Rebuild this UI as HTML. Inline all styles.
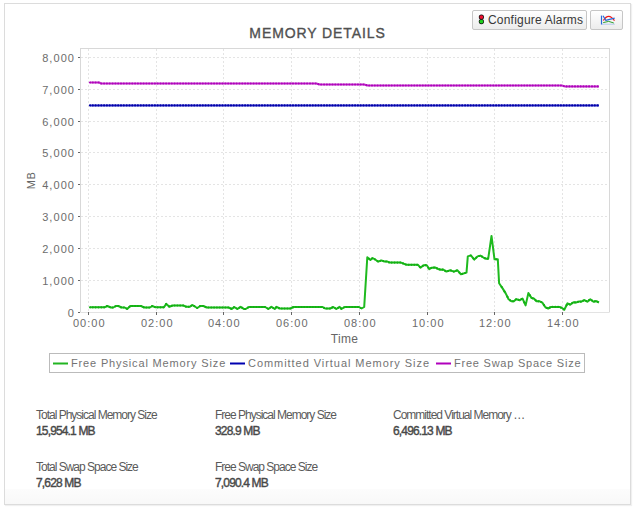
<!DOCTYPE html>
<html><head><meta charset="utf-8">
<style>
html,body{margin:0;padding:0;background:#fff;}
body{width:635px;height:508px;position:relative;overflow:hidden;font-family:"Liberation Sans",sans-serif;}
.frame{position:absolute;left:4px;top:3px;width:625px;height:500px;border:1px solid #dcdcdc;box-shadow:1px 1px 1px rgba(0,0,0,0.06);background:linear-gradient(#fff 0,#fff 485px,#fcfcfc 485px,#f8f8f8 500px);}
.title{position:absolute;left:0;width:635px;top:25px;text-align:center;font-weight:normal;font-size:14px;line-height:16px;letter-spacing:0.9px;color:#505050;-webkit-text-stroke:0.35px #505050;}
.btn{position:absolute;top:10px;height:18px;border:1px solid #c6c6c6;border-radius:2px;background:linear-gradient(#ffffff,#ececec);}
.b1{left:472px;width:113px;}
.b2{left:590px;width:31px;}
.btxt{position:absolute;left:15px;top:2px;font-size:12px;line-height:14px;color:#383838;letter-spacing:0.2px;white-space:nowrap;}
svg{position:absolute;left:0;top:0;}
.ax{font-family:"Liberation Sans",sans-serif;font-size:10.5px;fill:#6c6c6c;letter-spacing:1.0px;}
.lg{font-family:"Liberation Sans",sans-serif;font-size:11px;fill:#737373;letter-spacing:0.85px;}
.st{position:absolute;font-size:12px;line-height:16px;color:#5a5a5a;letter-spacing:-1px;white-space:nowrap;}
.st b{display:block;color:#484848;font-weight:normal;-webkit-text-stroke:0.4px #484848;letter-spacing:-0.85px;}
</style></head><body>
<div class="frame"></div>
<div class="title">MEMORY DETAILS</div>
<div class="btn b1">
 <svg width="8" height="11" style="left:5px;top:3px" viewBox="0 0 8 11"><circle cx="3.4" cy="3.1" r="2.6" fill="#111"/><circle cx="3.4" cy="7.6" r="2.6" fill="#111"/><circle cx="3.4" cy="3.1" r="1.9" fill="#ee1030"/><circle cx="3.4" cy="7.6" r="1.9" fill="#1ed01e"/></svg>
 <div class="btxt">Configure Alarms</div>
</div>
<div class="btn b2">
 <svg width="17" height="12" style="left:9px;top:3px" viewBox="0 0 17 12">
  <path d="M1 10.2H14.8" fill="none" stroke="#b4c8ec" stroke-width="1"/>
  <path d="M1.5 1.6V10.4" fill="none" stroke="#2a6ad8" stroke-width="1.2"/>
  <path d="M3.4 6.5Q8.5 -2 14.5 6.7" fill="none" stroke="#f01818" stroke-width="1.2"/>
  <path d="M3 1.8L5.8 6.3Q9 5.5 14.7 4.2" fill="none" stroke="#2a6ad8" stroke-width="1.2"/>
  <path d="M3.2 8.6Q9 6 13.8 9" fill="none" stroke="#30a030" stroke-width="1"/>
 </svg>
</div>
<svg width="635" height="508" viewBox="0 0 635 508">
 <g stroke="#e4e4e4" stroke-width="1" stroke-dasharray="2 2" fill="none">
  <path d="M81 280.5H609M81 248.5H609M81 216.5H609M81 184.5H609M81 152.5H609M81 121.5H609M81 89.5H609M81 57.5H609"/>
  <path d="M88.5 49V312M156.5 49V312M223.5 49V312M291.5 49V312M359.5 49V312M427.5 49V312M494.5 49V312M562.5 49V312"/>
 </g>
 <g stroke="#d8d8d8" stroke-width="1" fill="none">
  <path d="M80.5 48V312.5M80 48.5H610M609.5 48V312.5"/><path d="M81 312.5H609" stroke="#e3e3e3"/>
 </g>
 <g stroke="#666" stroke-width="1" fill="none">
  <path d="M78 280.5H80M78 248.5H80M78 216.5H80M78 184.5H80M78 152.5H80M78 121.5H80M78 89.5H80M78 57.5H80M78 312.5H80M88.5 312V315M156.5 312V315M223.5 312V315M291.5 312V315M359.5 312V315M427.5 312V315M494.5 312V315M562.5 312V315"/>
 </g>
 <text class="ax" transform="translate(75,285) scale(1.05,1)" text-anchor="end">1,000</text>
 <text class="ax" transform="translate(75,253) scale(1.05,1)" text-anchor="end">2,000</text>
 <text class="ax" transform="translate(75,221) scale(1.05,1)" text-anchor="end">3,000</text>
 <text class="ax" transform="translate(75,189) scale(1.05,1)" text-anchor="end">4,000</text>
 <text class="ax" transform="translate(75,157) scale(1.05,1)" text-anchor="end">5,000</text>
 <text class="ax" transform="translate(75,126) scale(1.05,1)" text-anchor="end">6,000</text>
 <text class="ax" transform="translate(75,94) scale(1.05,1)" text-anchor="end">7,000</text>
 <text class="ax" transform="translate(75,62) scale(1.05,1)" text-anchor="end">8,000</text>
 <text class="ax" transform="translate(75,317) scale(1.05,1)" text-anchor="end">0</text>
 <text class="ax" transform="translate(89.3,327) scale(1.05,1)" text-anchor="middle">00:00</text>
 <text class="ax" transform="translate(157.3,327) scale(1.05,1)" text-anchor="middle">02:00</text>
 <text class="ax" transform="translate(224.3,327) scale(1.05,1)" text-anchor="middle">04:00</text>
 <text class="ax" transform="translate(292.3,327) scale(1.05,1)" text-anchor="middle">06:00</text>
 <text class="ax" transform="translate(360.3,327) scale(1.05,1)" text-anchor="middle">08:00</text>
 <text class="ax" transform="translate(428.3,327) scale(1.05,1)" text-anchor="middle">10:00</text>
 <text class="ax" transform="translate(495.3,327) scale(1.05,1)" text-anchor="middle">12:00</text>
 <text class="ax" transform="translate(563.3,327) scale(1.05,1)" text-anchor="middle">14:00</text>
 <polyline points="90.0,82.5 99.2,82.5 101.1,83.5 316.4,83.5 319.5,84.5 364.2,84.5 367.4,85.5 562.1,85.5 564.6,86.4 599.0,86.4" fill="none" stroke="#c03cc8" stroke-width="2" stroke-linejoin="round"/>
<g fill="#b000bc"><circle cx="90.0" cy="82.5" r="1.1"/><circle cx="92.8" cy="82.5" r="1.1"/><circle cx="95.6" cy="82.5" r="1.1"/><circle cx="98.5" cy="82.5" r="1.1"/><circle cx="101.3" cy="83.5" r="1.1"/><circle cx="104.1" cy="83.5" r="1.1"/><circle cx="106.9" cy="83.5" r="1.1"/><circle cx="109.7" cy="83.5" r="1.1"/><circle cx="112.6" cy="83.5" r="1.1"/><circle cx="115.4" cy="83.5" r="1.1"/><circle cx="118.2" cy="83.5" r="1.1"/><circle cx="121.0" cy="83.5" r="1.1"/><circle cx="123.8" cy="83.5" r="1.1"/><circle cx="126.7" cy="83.5" r="1.1"/><circle cx="129.5" cy="83.5" r="1.1"/><circle cx="132.3" cy="83.5" r="1.1"/><circle cx="135.1" cy="83.5" r="1.1"/><circle cx="137.9" cy="83.5" r="1.1"/><circle cx="140.8" cy="83.5" r="1.1"/><circle cx="143.6" cy="83.5" r="1.1"/><circle cx="146.4" cy="83.5" r="1.1"/><circle cx="149.2" cy="83.5" r="1.1"/><circle cx="152.0" cy="83.5" r="1.1"/><circle cx="154.9" cy="83.5" r="1.1"/><circle cx="157.7" cy="83.5" r="1.1"/><circle cx="160.5" cy="83.5" r="1.1"/><circle cx="163.3" cy="83.5" r="1.1"/><circle cx="166.1" cy="83.5" r="1.1"/><circle cx="169.0" cy="83.5" r="1.1"/><circle cx="171.8" cy="83.5" r="1.1"/><circle cx="174.6" cy="83.5" r="1.1"/><circle cx="177.4" cy="83.5" r="1.1"/><circle cx="180.2" cy="83.5" r="1.1"/><circle cx="183.1" cy="83.5" r="1.1"/><circle cx="185.9" cy="83.5" r="1.1"/><circle cx="188.7" cy="83.5" r="1.1"/><circle cx="191.5" cy="83.5" r="1.1"/><circle cx="194.3" cy="83.5" r="1.1"/><circle cx="197.2" cy="83.5" r="1.1"/><circle cx="200.0" cy="83.5" r="1.1"/><circle cx="202.8" cy="83.5" r="1.1"/><circle cx="205.6" cy="83.5" r="1.1"/><circle cx="208.4" cy="83.5" r="1.1"/><circle cx="211.3" cy="83.5" r="1.1"/><circle cx="214.1" cy="83.5" r="1.1"/><circle cx="216.9" cy="83.5" r="1.1"/><circle cx="219.7" cy="83.5" r="1.1"/><circle cx="222.5" cy="83.5" r="1.1"/><circle cx="225.4" cy="83.5" r="1.1"/><circle cx="228.2" cy="83.5" r="1.1"/><circle cx="231.0" cy="83.5" r="1.1"/><circle cx="233.8" cy="83.5" r="1.1"/><circle cx="236.6" cy="83.5" r="1.1"/><circle cx="239.5" cy="83.5" r="1.1"/><circle cx="242.3" cy="83.5" r="1.1"/><circle cx="245.1" cy="83.5" r="1.1"/><circle cx="247.9" cy="83.5" r="1.1"/><circle cx="250.7" cy="83.5" r="1.1"/><circle cx="253.6" cy="83.5" r="1.1"/><circle cx="256.4" cy="83.5" r="1.1"/><circle cx="259.2" cy="83.5" r="1.1"/><circle cx="262.0" cy="83.5" r="1.1"/><circle cx="264.8" cy="83.5" r="1.1"/><circle cx="267.7" cy="83.5" r="1.1"/><circle cx="270.5" cy="83.5" r="1.1"/><circle cx="273.3" cy="83.5" r="1.1"/><circle cx="276.1" cy="83.5" r="1.1"/><circle cx="278.9" cy="83.5" r="1.1"/><circle cx="281.8" cy="83.5" r="1.1"/><circle cx="284.6" cy="83.5" r="1.1"/><circle cx="287.4" cy="83.5" r="1.1"/><circle cx="290.2" cy="83.5" r="1.1"/><circle cx="293.0" cy="83.5" r="1.1"/><circle cx="295.9" cy="83.5" r="1.1"/><circle cx="298.7" cy="83.5" r="1.1"/><circle cx="301.5" cy="83.5" r="1.1"/><circle cx="304.3" cy="83.5" r="1.1"/><circle cx="307.1" cy="83.5" r="1.1"/><circle cx="310.0" cy="83.5" r="1.1"/><circle cx="312.8" cy="83.5" r="1.1"/><circle cx="315.6" cy="83.5" r="1.1"/><circle cx="318.4" cy="84.2" r="1.1"/><circle cx="321.2" cy="84.5" r="1.1"/><circle cx="324.1" cy="84.5" r="1.1"/><circle cx="326.9" cy="84.5" r="1.1"/><circle cx="329.7" cy="84.5" r="1.1"/><circle cx="332.5" cy="84.5" r="1.1"/><circle cx="335.3" cy="84.5" r="1.1"/><circle cx="338.2" cy="84.5" r="1.1"/><circle cx="341.0" cy="84.5" r="1.1"/><circle cx="343.8" cy="84.5" r="1.1"/><circle cx="346.6" cy="84.5" r="1.1"/><circle cx="349.4" cy="84.5" r="1.1"/><circle cx="352.3" cy="84.5" r="1.1"/><circle cx="355.1" cy="84.5" r="1.1"/><circle cx="357.9" cy="84.5" r="1.1"/><circle cx="360.7" cy="84.5" r="1.1"/><circle cx="363.5" cy="84.5" r="1.1"/><circle cx="366.4" cy="85.2" r="1.1"/><circle cx="369.2" cy="85.5" r="1.1"/><circle cx="372.0" cy="85.5" r="1.1"/><circle cx="374.8" cy="85.5" r="1.1"/><circle cx="377.6" cy="85.5" r="1.1"/><circle cx="380.5" cy="85.5" r="1.1"/><circle cx="383.3" cy="85.5" r="1.1"/><circle cx="386.1" cy="85.5" r="1.1"/><circle cx="388.9" cy="85.5" r="1.1"/><circle cx="391.7" cy="85.5" r="1.1"/><circle cx="394.6" cy="85.5" r="1.1"/><circle cx="397.4" cy="85.5" r="1.1"/><circle cx="400.2" cy="85.5" r="1.1"/><circle cx="403.0" cy="85.5" r="1.1"/><circle cx="405.8" cy="85.5" r="1.1"/><circle cx="408.7" cy="85.5" r="1.1"/><circle cx="411.5" cy="85.5" r="1.1"/><circle cx="414.3" cy="85.5" r="1.1"/><circle cx="417.1" cy="85.5" r="1.1"/><circle cx="419.9" cy="85.5" r="1.1"/><circle cx="422.8" cy="85.5" r="1.1"/><circle cx="425.6" cy="85.5" r="1.1"/><circle cx="428.4" cy="85.5" r="1.1"/><circle cx="431.2" cy="85.5" r="1.1"/><circle cx="434.0" cy="85.5" r="1.1"/><circle cx="436.9" cy="85.5" r="1.1"/><circle cx="439.7" cy="85.5" r="1.1"/><circle cx="442.5" cy="85.5" r="1.1"/><circle cx="445.3" cy="85.5" r="1.1"/><circle cx="448.1" cy="85.5" r="1.1"/><circle cx="451.0" cy="85.5" r="1.1"/><circle cx="453.8" cy="85.5" r="1.1"/><circle cx="456.6" cy="85.5" r="1.1"/><circle cx="459.4" cy="85.5" r="1.1"/><circle cx="462.2" cy="85.5" r="1.1"/><circle cx="465.1" cy="85.5" r="1.1"/><circle cx="467.9" cy="85.5" r="1.1"/><circle cx="470.7" cy="85.5" r="1.1"/><circle cx="473.5" cy="85.5" r="1.1"/><circle cx="476.3" cy="85.5" r="1.1"/><circle cx="479.2" cy="85.5" r="1.1"/><circle cx="482.0" cy="85.5" r="1.1"/><circle cx="484.8" cy="85.5" r="1.1"/><circle cx="487.6" cy="85.5" r="1.1"/><circle cx="490.4" cy="85.5" r="1.1"/><circle cx="493.3" cy="85.5" r="1.1"/><circle cx="496.1" cy="85.5" r="1.1"/><circle cx="498.9" cy="85.5" r="1.1"/><circle cx="501.7" cy="85.5" r="1.1"/><circle cx="504.5" cy="85.5" r="1.1"/><circle cx="507.4" cy="85.5" r="1.1"/><circle cx="510.2" cy="85.5" r="1.1"/><circle cx="513.0" cy="85.5" r="1.1"/><circle cx="515.8" cy="85.5" r="1.1"/><circle cx="518.6" cy="85.5" r="1.1"/><circle cx="521.5" cy="85.5" r="1.1"/><circle cx="524.3" cy="85.5" r="1.1"/><circle cx="527.1" cy="85.5" r="1.1"/><circle cx="529.9" cy="85.5" r="1.1"/><circle cx="532.7" cy="85.5" r="1.1"/><circle cx="535.6" cy="85.5" r="1.1"/><circle cx="538.4" cy="85.5" r="1.1"/><circle cx="541.2" cy="85.5" r="1.1"/><circle cx="544.0" cy="85.5" r="1.1"/><circle cx="546.8" cy="85.5" r="1.1"/><circle cx="549.7" cy="85.5" r="1.1"/><circle cx="552.5" cy="85.5" r="1.1"/><circle cx="555.3" cy="85.5" r="1.1"/><circle cx="558.1" cy="85.5" r="1.1"/><circle cx="560.9" cy="85.5" r="1.1"/><circle cx="563.8" cy="86.1" r="1.1"/><circle cx="566.6" cy="86.4" r="1.1"/><circle cx="569.4" cy="86.4" r="1.1"/><circle cx="572.2" cy="86.4" r="1.1"/><circle cx="575.0" cy="86.4" r="1.1"/><circle cx="577.9" cy="86.4" r="1.1"/><circle cx="580.7" cy="86.4" r="1.1"/><circle cx="583.5" cy="86.4" r="1.1"/><circle cx="586.3" cy="86.4" r="1.1"/><circle cx="589.1" cy="86.4" r="1.1"/><circle cx="592.0" cy="86.4" r="1.1"/><circle cx="594.8" cy="86.4" r="1.1"/><circle cx="597.6" cy="86.4" r="1.1"/></g>
<polyline points="90.0,105.4 599.0,105.4" fill="none" stroke="#3434c8" stroke-width="2"/>
<g fill="#0000a8"><circle cx="90.0" cy="105.4" r="1.1"/><circle cx="92.8" cy="105.4" r="1.1"/><circle cx="95.6" cy="105.4" r="1.1"/><circle cx="98.5" cy="105.4" r="1.1"/><circle cx="101.3" cy="105.4" r="1.1"/><circle cx="104.1" cy="105.4" r="1.1"/><circle cx="106.9" cy="105.4" r="1.1"/><circle cx="109.7" cy="105.4" r="1.1"/><circle cx="112.6" cy="105.4" r="1.1"/><circle cx="115.4" cy="105.4" r="1.1"/><circle cx="118.2" cy="105.4" r="1.1"/><circle cx="121.0" cy="105.4" r="1.1"/><circle cx="123.8" cy="105.4" r="1.1"/><circle cx="126.7" cy="105.4" r="1.1"/><circle cx="129.5" cy="105.4" r="1.1"/><circle cx="132.3" cy="105.4" r="1.1"/><circle cx="135.1" cy="105.4" r="1.1"/><circle cx="137.9" cy="105.4" r="1.1"/><circle cx="140.8" cy="105.4" r="1.1"/><circle cx="143.6" cy="105.4" r="1.1"/><circle cx="146.4" cy="105.4" r="1.1"/><circle cx="149.2" cy="105.4" r="1.1"/><circle cx="152.0" cy="105.4" r="1.1"/><circle cx="154.9" cy="105.4" r="1.1"/><circle cx="157.7" cy="105.4" r="1.1"/><circle cx="160.5" cy="105.4" r="1.1"/><circle cx="163.3" cy="105.4" r="1.1"/><circle cx="166.1" cy="105.4" r="1.1"/><circle cx="169.0" cy="105.4" r="1.1"/><circle cx="171.8" cy="105.4" r="1.1"/><circle cx="174.6" cy="105.4" r="1.1"/><circle cx="177.4" cy="105.4" r="1.1"/><circle cx="180.2" cy="105.4" r="1.1"/><circle cx="183.1" cy="105.4" r="1.1"/><circle cx="185.9" cy="105.4" r="1.1"/><circle cx="188.7" cy="105.4" r="1.1"/><circle cx="191.5" cy="105.4" r="1.1"/><circle cx="194.3" cy="105.4" r="1.1"/><circle cx="197.2" cy="105.4" r="1.1"/><circle cx="200.0" cy="105.4" r="1.1"/><circle cx="202.8" cy="105.4" r="1.1"/><circle cx="205.6" cy="105.4" r="1.1"/><circle cx="208.4" cy="105.4" r="1.1"/><circle cx="211.3" cy="105.4" r="1.1"/><circle cx="214.1" cy="105.4" r="1.1"/><circle cx="216.9" cy="105.4" r="1.1"/><circle cx="219.7" cy="105.4" r="1.1"/><circle cx="222.5" cy="105.4" r="1.1"/><circle cx="225.4" cy="105.4" r="1.1"/><circle cx="228.2" cy="105.4" r="1.1"/><circle cx="231.0" cy="105.4" r="1.1"/><circle cx="233.8" cy="105.4" r="1.1"/><circle cx="236.6" cy="105.4" r="1.1"/><circle cx="239.5" cy="105.4" r="1.1"/><circle cx="242.3" cy="105.4" r="1.1"/><circle cx="245.1" cy="105.4" r="1.1"/><circle cx="247.9" cy="105.4" r="1.1"/><circle cx="250.7" cy="105.4" r="1.1"/><circle cx="253.6" cy="105.4" r="1.1"/><circle cx="256.4" cy="105.4" r="1.1"/><circle cx="259.2" cy="105.4" r="1.1"/><circle cx="262.0" cy="105.4" r="1.1"/><circle cx="264.8" cy="105.4" r="1.1"/><circle cx="267.7" cy="105.4" r="1.1"/><circle cx="270.5" cy="105.4" r="1.1"/><circle cx="273.3" cy="105.4" r="1.1"/><circle cx="276.1" cy="105.4" r="1.1"/><circle cx="278.9" cy="105.4" r="1.1"/><circle cx="281.8" cy="105.4" r="1.1"/><circle cx="284.6" cy="105.4" r="1.1"/><circle cx="287.4" cy="105.4" r="1.1"/><circle cx="290.2" cy="105.4" r="1.1"/><circle cx="293.0" cy="105.4" r="1.1"/><circle cx="295.9" cy="105.4" r="1.1"/><circle cx="298.7" cy="105.4" r="1.1"/><circle cx="301.5" cy="105.4" r="1.1"/><circle cx="304.3" cy="105.4" r="1.1"/><circle cx="307.1" cy="105.4" r="1.1"/><circle cx="310.0" cy="105.4" r="1.1"/><circle cx="312.8" cy="105.4" r="1.1"/><circle cx="315.6" cy="105.4" r="1.1"/><circle cx="318.4" cy="105.4" r="1.1"/><circle cx="321.2" cy="105.4" r="1.1"/><circle cx="324.1" cy="105.4" r="1.1"/><circle cx="326.9" cy="105.4" r="1.1"/><circle cx="329.7" cy="105.4" r="1.1"/><circle cx="332.5" cy="105.4" r="1.1"/><circle cx="335.3" cy="105.4" r="1.1"/><circle cx="338.2" cy="105.4" r="1.1"/><circle cx="341.0" cy="105.4" r="1.1"/><circle cx="343.8" cy="105.4" r="1.1"/><circle cx="346.6" cy="105.4" r="1.1"/><circle cx="349.4" cy="105.4" r="1.1"/><circle cx="352.3" cy="105.4" r="1.1"/><circle cx="355.1" cy="105.4" r="1.1"/><circle cx="357.9" cy="105.4" r="1.1"/><circle cx="360.7" cy="105.4" r="1.1"/><circle cx="363.5" cy="105.4" r="1.1"/><circle cx="366.4" cy="105.4" r="1.1"/><circle cx="369.2" cy="105.4" r="1.1"/><circle cx="372.0" cy="105.4" r="1.1"/><circle cx="374.8" cy="105.4" r="1.1"/><circle cx="377.6" cy="105.4" r="1.1"/><circle cx="380.5" cy="105.4" r="1.1"/><circle cx="383.3" cy="105.4" r="1.1"/><circle cx="386.1" cy="105.4" r="1.1"/><circle cx="388.9" cy="105.4" r="1.1"/><circle cx="391.7" cy="105.4" r="1.1"/><circle cx="394.6" cy="105.4" r="1.1"/><circle cx="397.4" cy="105.4" r="1.1"/><circle cx="400.2" cy="105.4" r="1.1"/><circle cx="403.0" cy="105.4" r="1.1"/><circle cx="405.8" cy="105.4" r="1.1"/><circle cx="408.7" cy="105.4" r="1.1"/><circle cx="411.5" cy="105.4" r="1.1"/><circle cx="414.3" cy="105.4" r="1.1"/><circle cx="417.1" cy="105.4" r="1.1"/><circle cx="419.9" cy="105.4" r="1.1"/><circle cx="422.8" cy="105.4" r="1.1"/><circle cx="425.6" cy="105.4" r="1.1"/><circle cx="428.4" cy="105.4" r="1.1"/><circle cx="431.2" cy="105.4" r="1.1"/><circle cx="434.0" cy="105.4" r="1.1"/><circle cx="436.9" cy="105.4" r="1.1"/><circle cx="439.7" cy="105.4" r="1.1"/><circle cx="442.5" cy="105.4" r="1.1"/><circle cx="445.3" cy="105.4" r="1.1"/><circle cx="448.1" cy="105.4" r="1.1"/><circle cx="451.0" cy="105.4" r="1.1"/><circle cx="453.8" cy="105.4" r="1.1"/><circle cx="456.6" cy="105.4" r="1.1"/><circle cx="459.4" cy="105.4" r="1.1"/><circle cx="462.2" cy="105.4" r="1.1"/><circle cx="465.1" cy="105.4" r="1.1"/><circle cx="467.9" cy="105.4" r="1.1"/><circle cx="470.7" cy="105.4" r="1.1"/><circle cx="473.5" cy="105.4" r="1.1"/><circle cx="476.3" cy="105.4" r="1.1"/><circle cx="479.2" cy="105.4" r="1.1"/><circle cx="482.0" cy="105.4" r="1.1"/><circle cx="484.8" cy="105.4" r="1.1"/><circle cx="487.6" cy="105.4" r="1.1"/><circle cx="490.4" cy="105.4" r="1.1"/><circle cx="493.3" cy="105.4" r="1.1"/><circle cx="496.1" cy="105.4" r="1.1"/><circle cx="498.9" cy="105.4" r="1.1"/><circle cx="501.7" cy="105.4" r="1.1"/><circle cx="504.5" cy="105.4" r="1.1"/><circle cx="507.4" cy="105.4" r="1.1"/><circle cx="510.2" cy="105.4" r="1.1"/><circle cx="513.0" cy="105.4" r="1.1"/><circle cx="515.8" cy="105.4" r="1.1"/><circle cx="518.6" cy="105.4" r="1.1"/><circle cx="521.5" cy="105.4" r="1.1"/><circle cx="524.3" cy="105.4" r="1.1"/><circle cx="527.1" cy="105.4" r="1.1"/><circle cx="529.9" cy="105.4" r="1.1"/><circle cx="532.7" cy="105.4" r="1.1"/><circle cx="535.6" cy="105.4" r="1.1"/><circle cx="538.4" cy="105.4" r="1.1"/><circle cx="541.2" cy="105.4" r="1.1"/><circle cx="544.0" cy="105.4" r="1.1"/><circle cx="546.8" cy="105.4" r="1.1"/><circle cx="549.7" cy="105.4" r="1.1"/><circle cx="552.5" cy="105.4" r="1.1"/><circle cx="555.3" cy="105.4" r="1.1"/><circle cx="558.1" cy="105.4" r="1.1"/><circle cx="560.9" cy="105.4" r="1.1"/><circle cx="563.8" cy="105.4" r="1.1"/><circle cx="566.6" cy="105.4" r="1.1"/><circle cx="569.4" cy="105.4" r="1.1"/><circle cx="572.2" cy="105.4" r="1.1"/><circle cx="575.0" cy="105.4" r="1.1"/><circle cx="577.9" cy="105.4" r="1.1"/><circle cx="580.7" cy="105.4" r="1.1"/><circle cx="583.5" cy="105.4" r="1.1"/><circle cx="586.3" cy="105.4" r="1.1"/><circle cx="589.1" cy="105.4" r="1.1"/><circle cx="592.0" cy="105.4" r="1.1"/><circle cx="594.8" cy="105.4" r="1.1"/><circle cx="597.6" cy="105.4" r="1.1"/></g>
<polyline points="90.0,307.3 104.5,307.3 107.4,306.0 110.8,307.5 113.3,307.5 115.9,306.0 118.4,306.0 121.5,307.5 124.7,307.5 127.2,309.0 130.3,306.0 141.0,306.0 144.2,307.5 149.9,307.5 152.4,306.0 155.5,307.3 162.5,307.3 163.8,307.3 166.3,303.9 169.4,306.8 172.6,305.5 183.3,305.5 186.4,306.8 189.6,306.8 192.5,305.0 197.2,308.0 200.3,306.0 203.5,306.0 206.6,307.5 228.6,307.5 231.8,309.0 234.3,307.0 237.5,309.0 240.7,306.8 243.8,309.0 245.7,309.0 248.9,307.0 265.2,307.0 268.4,309.0 271.5,306.8 274.7,309.0 276.6,306.8 279.7,308.5 290.4,308.5 293.6,307.0 322.6,307.0 325.1,308.5 330.2,308.5 333.3,307.0 336.4,309.0 339.6,306.8 341.5,309.0 344.6,307.0 359.1,307.0 361.6,308.5 364.2,307.0 367.3,257.2 370.4,259.9 372.6,258.0 375.2,259.5 378.3,261.7 381.4,260.4 384.6,261.6 387.1,261.4 389.6,262.6 401.0,262.6 403.5,263.6 406.6,264.8 418.0,264.8 420.5,267.7 423.6,265.2 426.8,265.2 429.3,269.2 431.8,267.7 435.0,267.4 438.2,269.0 440.7,269.7 443.2,269.5 446.4,271.6 450.2,270.3 453.9,271.6 457.5,270.3 460.9,274.3 466.5,272.6 467.8,256.4 470.9,255.4 474.3,259.6 477.6,256.4 480.4,255.6 484.2,258.0 486.0,258.7 488.2,258.7 491.5,235.9 494.5,259.3 497.8,259.3 499.1,283.3 502.6,288.4 505.7,293.4 508.6,299.3 511.4,301.3 513.9,301.3 516.4,299.1 519.6,300.3 522.5,298.5 525.6,305.4 528.4,293.0 531.6,298.1 533.8,298.5 536.6,301.3 539.7,301.3 542.3,302.6 545.4,307.3 548.2,308.5 551.1,306.9 559.3,306.9 562.4,308.2 564.3,309.8 567.5,303.3 570.2,304.7 573.4,302.2 576.1,302.5 579.3,301.4 581.3,301.7 584.4,300.1 587.4,301.7 590.3,299.2 593.5,301.7 596.2,301.1 599.0,302.5" fill="none" stroke="#1fba1f" stroke-width="2" stroke-linejoin="round"/>
<g fill="#12b012"><circle cx="90.0" cy="307.3" r="1.1"/><circle cx="92.8" cy="307.3" r="1.1"/><circle cx="95.6" cy="307.3" r="1.1"/><circle cx="98.5" cy="307.3" r="1.1"/><circle cx="101.3" cy="307.3" r="1.1"/><circle cx="104.1" cy="307.3" r="1.1"/><circle cx="106.9" cy="306.2" r="1.1"/><circle cx="109.7" cy="307.0" r="1.1"/><circle cx="112.6" cy="307.5" r="1.1"/><circle cx="115.4" cy="306.3" r="1.1"/><circle cx="118.2" cy="306.0" r="1.1"/><circle cx="121.0" cy="307.3" r="1.1"/><circle cx="123.8" cy="307.5" r="1.1"/><circle cx="126.7" cy="308.7" r="1.1"/><circle cx="129.5" cy="306.8" r="1.1"/><circle cx="132.3" cy="306.0" r="1.1"/><circle cx="135.1" cy="306.0" r="1.1"/><circle cx="137.9" cy="306.0" r="1.1"/><circle cx="140.8" cy="306.0" r="1.1"/><circle cx="143.6" cy="307.2" r="1.1"/><circle cx="146.4" cy="307.5" r="1.1"/><circle cx="149.2" cy="307.5" r="1.1"/><circle cx="152.0" cy="306.2" r="1.1"/><circle cx="154.9" cy="307.0" r="1.1"/><circle cx="157.7" cy="307.3" r="1.1"/><circle cx="160.5" cy="307.3" r="1.1"/><circle cx="163.3" cy="307.3" r="1.1"/><circle cx="166.1" cy="304.1" r="1.1"/><circle cx="169.0" cy="306.4" r="1.1"/><circle cx="171.8" cy="305.8" r="1.1"/><circle cx="174.6" cy="305.5" r="1.1"/><circle cx="177.4" cy="305.5" r="1.1"/><circle cx="180.2" cy="305.5" r="1.1"/><circle cx="183.1" cy="305.5" r="1.1"/><circle cx="185.9" cy="306.6" r="1.1"/><circle cx="188.7" cy="306.8" r="1.1"/><circle cx="191.5" cy="305.6" r="1.1"/><circle cx="194.3" cy="306.2" r="1.1"/><circle cx="197.2" cy="308.0" r="1.1"/><circle cx="200.0" cy="306.2" r="1.1"/><circle cx="202.8" cy="306.0" r="1.1"/><circle cx="205.6" cy="307.0" r="1.1"/><circle cx="208.4" cy="307.5" r="1.1"/><circle cx="211.3" cy="307.5" r="1.1"/><circle cx="214.1" cy="307.5" r="1.1"/><circle cx="216.9" cy="307.5" r="1.1"/><circle cx="219.7" cy="307.5" r="1.1"/><circle cx="222.5" cy="307.5" r="1.1"/><circle cx="225.4" cy="307.5" r="1.1"/><circle cx="228.2" cy="307.5" r="1.1"/><circle cx="231.0" cy="308.6" r="1.1"/><circle cx="233.8" cy="307.4" r="1.1"/><circle cx="236.6" cy="308.5" r="1.1"/><circle cx="239.5" cy="307.7" r="1.1"/><circle cx="242.3" cy="307.9" r="1.1"/><circle cx="245.1" cy="309.0" r="1.1"/><circle cx="247.9" cy="307.6" r="1.1"/><circle cx="250.7" cy="307.0" r="1.1"/><circle cx="253.6" cy="307.0" r="1.1"/><circle cx="256.4" cy="307.0" r="1.1"/><circle cx="259.2" cy="307.0" r="1.1"/><circle cx="262.0" cy="307.0" r="1.1"/><circle cx="264.8" cy="307.0" r="1.1"/><circle cx="267.7" cy="308.5" r="1.1"/><circle cx="270.5" cy="307.5" r="1.1"/><circle cx="273.3" cy="308.0" r="1.1"/><circle cx="276.1" cy="307.4" r="1.1"/><circle cx="278.9" cy="308.1" r="1.1"/><circle cx="281.8" cy="308.5" r="1.1"/><circle cx="284.6" cy="308.5" r="1.1"/><circle cx="287.4" cy="308.5" r="1.1"/><circle cx="290.2" cy="308.5" r="1.1"/><circle cx="293.0" cy="307.3" r="1.1"/><circle cx="295.9" cy="307.0" r="1.1"/><circle cx="298.7" cy="307.0" r="1.1"/><circle cx="301.5" cy="307.0" r="1.1"/><circle cx="304.3" cy="307.0" r="1.1"/><circle cx="307.1" cy="307.0" r="1.1"/><circle cx="310.0" cy="307.0" r="1.1"/><circle cx="312.8" cy="307.0" r="1.1"/><circle cx="315.6" cy="307.0" r="1.1"/><circle cx="318.4" cy="307.0" r="1.1"/><circle cx="321.2" cy="307.0" r="1.1"/><circle cx="324.1" cy="307.9" r="1.1"/><circle cx="326.9" cy="308.5" r="1.1"/><circle cx="329.7" cy="308.5" r="1.1"/><circle cx="332.5" cy="307.4" r="1.1"/><circle cx="335.3" cy="308.3" r="1.1"/><circle cx="338.2" cy="307.8" r="1.1"/><circle cx="341.0" cy="308.4" r="1.1"/><circle cx="343.8" cy="307.5" r="1.1"/><circle cx="346.6" cy="307.0" r="1.1"/><circle cx="349.4" cy="307.0" r="1.1"/><circle cx="352.3" cy="307.0" r="1.1"/><circle cx="355.1" cy="307.0" r="1.1"/><circle cx="357.9" cy="307.0" r="1.1"/><circle cx="360.7" cy="308.0" r="1.1"/><circle cx="369.2" cy="258.8" r="1.1"/><circle cx="372.0" cy="258.5" r="1.1"/><circle cx="374.8" cy="259.3" r="1.1"/><circle cx="377.6" cy="261.2" r="1.1"/><circle cx="380.5" cy="260.8" r="1.1"/><circle cx="383.3" cy="261.1" r="1.1"/><circle cx="386.1" cy="261.5" r="1.1"/><circle cx="388.9" cy="262.3" r="1.1"/><circle cx="391.7" cy="262.6" r="1.1"/><circle cx="394.6" cy="262.6" r="1.1"/><circle cx="397.4" cy="262.6" r="1.1"/><circle cx="400.2" cy="262.6" r="1.1"/><circle cx="403.0" cy="263.4" r="1.1"/><circle cx="405.8" cy="264.5" r="1.1"/><circle cx="408.7" cy="264.8" r="1.1"/><circle cx="411.5" cy="264.8" r="1.1"/><circle cx="414.3" cy="264.8" r="1.1"/><circle cx="417.1" cy="264.8" r="1.1"/><circle cx="419.9" cy="267.1" r="1.1"/><circle cx="422.8" cy="265.9" r="1.1"/><circle cx="425.6" cy="265.2" r="1.1"/><circle cx="428.4" cy="267.8" r="1.1"/><circle cx="431.2" cy="268.0" r="1.1"/><circle cx="434.0" cy="267.5" r="1.1"/><circle cx="436.9" cy="268.3" r="1.1"/><circle cx="439.7" cy="269.4" r="1.1"/><circle cx="442.5" cy="269.6" r="1.1"/><circle cx="445.3" cy="270.9" r="1.1"/><circle cx="448.1" cy="271.0" r="1.1"/><circle cx="451.0" cy="270.6" r="1.1"/><circle cx="453.8" cy="271.6" r="1.1"/><circle cx="456.6" cy="270.6" r="1.1"/><circle cx="459.4" cy="272.6" r="1.1"/><circle cx="462.2" cy="273.9" r="1.1"/><circle cx="465.1" cy="273.0" r="1.1"/><circle cx="470.7" cy="255.5" r="1.1"/><circle cx="473.5" cy="258.6" r="1.1"/><circle cx="476.3" cy="257.6" r="1.1"/><circle cx="479.2" cy="256.0" r="1.1"/><circle cx="482.0" cy="256.6" r="1.1"/><circle cx="484.8" cy="258.2" r="1.1"/><circle cx="487.6" cy="258.7" r="1.1"/><circle cx="496.1" cy="259.3" r="1.1"/><circle cx="501.7" cy="287.1" r="1.1"/><circle cx="504.5" cy="291.5" r="1.1"/><circle cx="507.4" cy="296.8" r="1.1"/><circle cx="510.2" cy="300.4" r="1.1"/><circle cx="513.0" cy="301.3" r="1.1"/><circle cx="515.8" cy="299.6" r="1.1"/><circle cx="518.6" cy="299.9" r="1.1"/><circle cx="521.5" cy="299.1" r="1.1"/><circle cx="524.3" cy="302.5" r="1.1"/><circle cx="529.9" cy="295.4" r="1.1"/><circle cx="532.7" cy="298.3" r="1.1"/><circle cx="535.6" cy="300.3" r="1.1"/><circle cx="538.4" cy="301.3" r="1.1"/><circle cx="541.2" cy="302.0" r="1.1"/><circle cx="544.0" cy="305.2" r="1.1"/><circle cx="546.8" cy="307.9" r="1.1"/><circle cx="549.7" cy="307.7" r="1.1"/><circle cx="552.5" cy="306.9" r="1.1"/><circle cx="555.3" cy="306.9" r="1.1"/><circle cx="558.1" cy="306.9" r="1.1"/><circle cx="560.9" cy="307.6" r="1.1"/><circle cx="563.8" cy="309.3" r="1.1"/><circle cx="566.6" cy="305.2" r="1.1"/><circle cx="569.4" cy="304.3" r="1.1"/><circle cx="572.2" cy="303.1" r="1.1"/><circle cx="575.0" cy="302.4" r="1.1"/><circle cx="577.9" cy="301.9" r="1.1"/><circle cx="580.7" cy="301.6" r="1.1"/><circle cx="583.5" cy="300.6" r="1.1"/><circle cx="586.3" cy="301.1" r="1.1"/><circle cx="589.1" cy="300.2" r="1.1"/><circle cx="592.0" cy="300.5" r="1.1"/><circle cx="594.8" cy="301.4" r="1.1"/><circle cx="597.6" cy="301.8" r="1.1"/></g>
 <g>
  <rect x="49.5" y="353.5" width="535" height="19" fill="#fff" stroke="#bbb"/>
  <path d="M53 363.5H68" stroke="#22b522" stroke-width="2"/>
  <path d="M230 363.5H245" stroke="#0000b0" stroke-width="2"/>
  <path d="M436 363.5H451" stroke="#b000bc" stroke-width="2"/>
  <text class="lg" x="71" y="367">Free Physical Memory Size</text>
  <text class="lg" x="248" y="367" style="letter-spacing:0.95px">Committed Virtual Memory Size</text>
  <text class="lg" x="454" y="367" style="letter-spacing:0.77px">Free Swap Space Size</text>
 </g>
 <text x="0" y="0" transform="translate(35,180.5) rotate(-90)" text-anchor="middle" style="font-family:'Liberation Sans',sans-serif;font-size:11px;fill:#666;letter-spacing:0.6px">MB</text>
 <text x="344.5" y="343" text-anchor="middle" style="font-family:'Liberation Sans',sans-serif;font-size:12px;fill:#666;letter-spacing:0.3px">Time</text>
</svg>
<div class="st" style="left:36px;top:407px">Total Physical Memory Size<b>15,954.1 MB</b></div>
<div class="st" style="left:215px;top:407px">Free Physical Memory Size<b>328.9 MB</b></div>
<div class="st" style="left:393px;top:407px">Committed Virtual Memory …<b>6,496.13 MB</b></div>
<div class="st" style="left:36px;top:459px">Total Swap Space Size<b>7,628 MB</b></div>
<div class="st" style="left:215px;top:459px">Free Swap Space Size<b>7,090.4 MB</b></div>
</body></html>
